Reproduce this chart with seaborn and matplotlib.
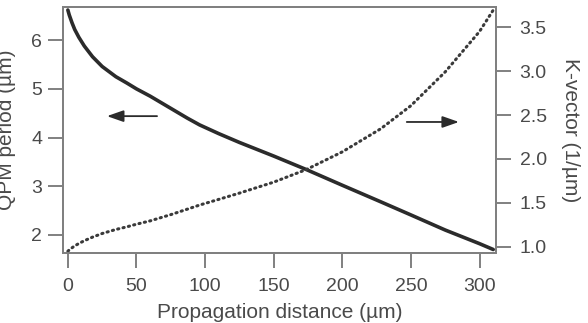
import matplotlib
matplotlib.use("Agg")
import matplotlib.pyplot as plt
import seaborn as sns
import pandas as pd

distance = [0, 1, 3, 5, 8, 12, 18, 25, 35, 43, 50, 60, 75, 87, 96, 110, 125, 150,
            174, 200, 228, 250, 275, 300, 310]
qpm_period = [6.62, 6.52, 6.36, 6.22, 6.06, 5.88, 5.66, 5.46, 5.25, 5.12, 5.00, 4.85,
              4.60, 4.40, 4.26, 4.08, 3.90, 3.62, 3.34, 3.02, 2.68, 2.41, 2.10,
              1.82, 1.70]
k_vector = [0.949, 0.964, 0.988, 1.010, 1.037, 1.069, 1.110, 1.151, 1.197, 1.227,
            1.257, 1.295, 1.366, 1.428, 1.475, 1.540, 1.611, 1.736, 1.881, 2.081,
            2.344, 2.607, 2.992, 3.452, 3.696]
x_ticks = [0, 50, 100, 150, 200, 250, 300]
left_ticks = [2, 3, 4, 5, 6]
right_ticks = [1.0, 1.5, 2.0, 2.5, 3.0, 3.5]

df = pd.DataFrame({"distance": distance, "period": qpm_period, "k": k_vector})

sns.set_style("white")
plt.rcParams['font.family'] = ['Liberation Sans', 'DejaVu Sans']
text_c = "#4a4a4a"
spine_c = "#808080"
line_c = "#2b2b2b"
fs_tick = 14
fs_lab = 15

fig = plt.figure(figsize=(5.88, 3.23), dpi=100)
ax = fig.add_axes([0.107, 0.217, 0.7365, 0.761])
ax2 = ax.twinx()

sns.lineplot(data=df, x="distance", y="period", ax=ax, color=line_c, linewidth=2.6)
sns.lineplot(data=df, x="distance", y="k", ax=ax2, color="#3a3a3a", linewidth=2.2,
             dashes=False)
ln = ax2.lines[0]
ln.set_dashes((0.4, 1.4))
ln.set_dash_capstyle("round")

ax.set_xlim(-3.6, 312)
ax.set_ylim(1.63, 6.68)
ax2.set_ylim(0.93, 3.73)

ax.set_xticks(x_ticks)
ax.set_xticklabels([str(t) for t in x_ticks])
ax.set_yticks(left_ticks)
ax.set_yticklabels([str(t) for t in left_ticks])
ax2.set_yticks(right_ticks)
ax2.set_yticklabels([f"{t:.1f}" for t in right_ticks])

for a in (ax, ax2):
    for s in a.spines.values():
        s.set_color(spine_c)
        s.set_linewidth(1.4)
    a.tick_params(colors=spine_c, labelcolor=text_c, labelsize=fs_tick, length=11,
                  width=1.4, direction="out", pad=3)
ax.tick_params(axis="y", left=True, right=False, pad=4)
ax.tick_params(axis="x", bottom=True, pad=7)
ax2.tick_params(axis="y", right=True, left=False, pad=6)

ax.set_xlabel("Propagation distance (µm)", fontsize=fs_lab, color=text_c, labelpad=6)
ax.set_ylabel("QPM period (µm)", fontsize=fs_lab, color=text_c, labelpad=11)
ax2.set_ylabel("K-vector (1/µm)", fontsize=fs_lab, color=text_c, rotation=270,
               labelpad=24)

ax.annotate("", xy=(28.5, 4.44), xytext=(65, 4.44),
            arrowprops=dict(arrowstyle="-|>,head_length=1.0,head_width=0.35",
                            color=line_c, lw=1.3, shrinkA=0, shrinkB=0))
ax.annotate("", xy=(285, 4.32), xytext=(247, 4.32),
            arrowprops=dict(arrowstyle="-|>,head_length=1.0,head_width=0.35",
                            color=line_c, lw=1.3, shrinkA=0, shrinkB=0))

fig.savefig("out.png", dpi=100)
